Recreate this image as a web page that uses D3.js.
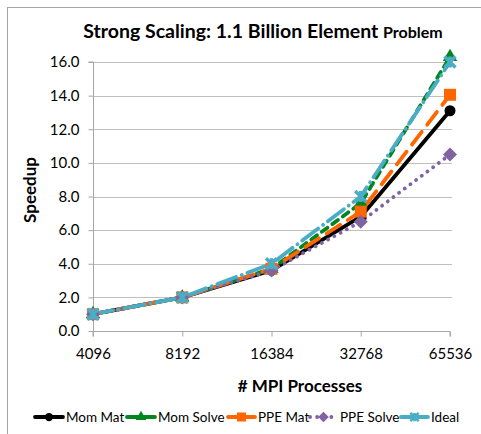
<!doctype html>
<html lang="en">
<head>
<meta charset="utf-8">
<title>Strong Scaling</title>
<script src="https://cdn.jsdelivr.net/npm/d3@7"></script>
<style>
  body { margin: 0; background: #fff; }
  svg { display: block; font-family: Lato, "Open Sans", sans-serif; }
</style>
</head>
<body>
<svg></svg>
<script>
var width = 481, height = 434;

var procs = ["4096", "8192", "16384", "32768", "65536"];
var yTicks = [0, 2, 4, 6, 8, 10, 12, 14, 16];
var momMat = [1.0, 2.0, 3.6, 6.8, 13.1];
var momSolve = [1.0, 2.0, 3.7, 7.6, 16.3];
var ppeMat = [1.0, 2.0, 3.7, 7.1, 14.05];
var ppeSolve = [1.0, 2.0, 3.6, 6.5, 10.5];
var ideal = [1, 2, 4, 8, 16];

var series = [
  { name: "Mom Mat", values: momMat, color: "#000000", dash: null, marker: "circle" },
  { name: "Mom Solve", values: momSolve, color: "#00861f", dash: "7,6", marker: "triangle" },
  { name: "PPE Mat", values: ppeMat, color: "#ff6600", dash: "16,9", marker: "square" },
  { name: "PPE Solve", values: ppeSolve, color: "#8064a2", dash: "0.1,7", marker: "diamond" },
  { name: "Ideal", values: ideal, color: "#4bacc6", dash: "20,6,0.1,6", marker: "x" }
];

var svg = d3.select("svg").attr("width", width).attr("height", height);

// chart frame
svg.append("rect").attr("x", 7.5).attr("y", 7.5).attr("width", 490).attr("height", 440)
  .attr("fill", "#fff").attr("stroke", "#a6a6a6");

var plotLeft = 93, plotRight = 450, plotTop = 62, plotBottom = 331;

var x = d3.scalePoint().domain(procs).range([plotLeft, plotRight]);
var y = d3.scaleLinear().domain([0, 16]).range([plotBottom, plotTop]);

// grid
svg.append("g").selectAll("line").data(yTicks.slice(1)).enter().append("line")
  .attr("x1", plotLeft).attr("x2", plotRight + 2)
  .attr("y1", function (d) { return Math.round(y(d)) + 0.5; })
  .attr("y2", function (d) { return Math.round(y(d)) + 0.5; })
  .attr("stroke", "#bfbfbf").attr("stroke-width", 1);

var yAxis = d3.axisLeft(y).tickValues(yTicks).tickFormat(d3.format(".1f")).tickSize(5).tickPadding(9);
var gy = svg.append("g").attr("transform", "translate(" + (plotLeft + 0.5) + ",0)").call(yAxis);

var xAxis = d3.axisBottom(x).tickSize(5).tickPadding(12);
var gx = svg.append("g").attr("transform", "translate(0," + (plotBottom + 0.5) + ")").call(xAxis);

[gx, gy].forEach(function (g) {
  g.select(".domain").attr("stroke", "#a6a6a6");
  g.selectAll(".tick line").attr("stroke", "#a6a6a6");
  g.selectAll("text").attr("font-size", 15).attr("fill", "#000").attr("font-family", "Lato, sans-serif");
});
gy.select(".domain").attr("d", "M-5," + y(16) + "H0V" + y(0));
gx.select(".domain").attr("d", "M" + plotLeft + ",5V0H" + plotRight + "V5");

var line = d3.line().x(function (d, i) { return x(procs[i]); }).y(function (d) { return y(d); });

function drawMarker(g, type, color, s) {
  if (type === "circle") {
    g.append("circle").attr("r", 5.5 * s).attr("fill", color);
  } else if (type === "triangle") {
    g.append("path").attr("d", d3.symbol(d3.symbolTriangle, 90 * s * s)).attr("fill", color);
  } else if (type === "square") {
    g.append("rect").attr("x", -6 * s).attr("y", -6 * s).attr("width", 12 * s).attr("height", 12 * s).attr("fill", color);
  } else if (type === "diamond") {
    g.append("path").attr("d", "M0," + (-7 * s) + "L" + (7 * s) + ",0L0," + (7 * s) + "L" + (-7 * s) + ",0Z").attr("fill", color);
  } else {
    var r = 5.5 * s;
    g.append("path").attr("d", "M" + (-r) + "," + (-r) + "L" + r + "," + r + "M" + (-r) + "," + r + "L" + r + "," + (-r) + "M0," + (-r) + "V" + r)
      .attr("stroke", color).attr("stroke-width", 3.5 * s).attr("fill", "none");
  }
}

series.forEach(function (s) {
  svg.append("path").datum(s.values).attr("d", line)
    .attr("fill", "none").attr("stroke", s.color).attr("stroke-width", 3.8)
    .attr("stroke-linecap", "round").attr("stroke-linejoin", "round")
    .attr("stroke-dasharray", s.dash);
});
series.forEach(function (s) {
  s.values.forEach(function (v, i) {
    var g = svg.append("g").attr("transform", "translate(" + x(procs[i]) + "," + y(v) + ")");
    drawMarker(g, s.marker, s.color, 1);
  });
});

// titles
var title = svg.append("text").attr("x", 263).attr("y", 38).attr("text-anchor", "middle")
  .attr("font-weight", "bold").attr("font-size", 19.5);
title.append("tspan").text("Strong Scaling: 1.1 Billion Element ");
title.append("tspan").attr("font-size", 16).text("Problem");

svg.append("text").attr("transform", "translate(36,190) rotate(-90)").attr("text-anchor", "middle")
  .attr("font-weight", "bold").attr("font-size", 17).text("Speedup");

svg.append("text").attr("x", 300).attr("y", 392).attr("text-anchor", "middle")
  .attr("font-weight", "bold").attr("font-size", 17).text("# MPI Processes");

// legend
var legendX = [35, 127, 228, 310, 401];
var legendW = [28, 28, 27, 27, 27];
series.forEach(function (s, i) {
  var g = svg.append("g").attr("transform", "translate(" + legendX[i] + ",417)");
  g.append("line").attr("x1", 0).attr("x2", legendW[i]).attr("y1", 0).attr("y2", 0)
    .attr("stroke", s.color).attr("stroke-width", 3.8).attr("stroke-linecap", "round")
    .attr("stroke-dasharray", s.marker === "diamond" ? "0.1,7" : null);
  var m = g.append("g").attr("transform", "translate(" + (legendW[i] / 2) + ",0)");
  drawMarker(m, s.marker, s.color, 0.75);
  g.append("text").attr("x", legendW[i] + 3).attr("y", 5).attr("font-size", 13.5).text(s.name);
});
</script>
</body>
</html>
